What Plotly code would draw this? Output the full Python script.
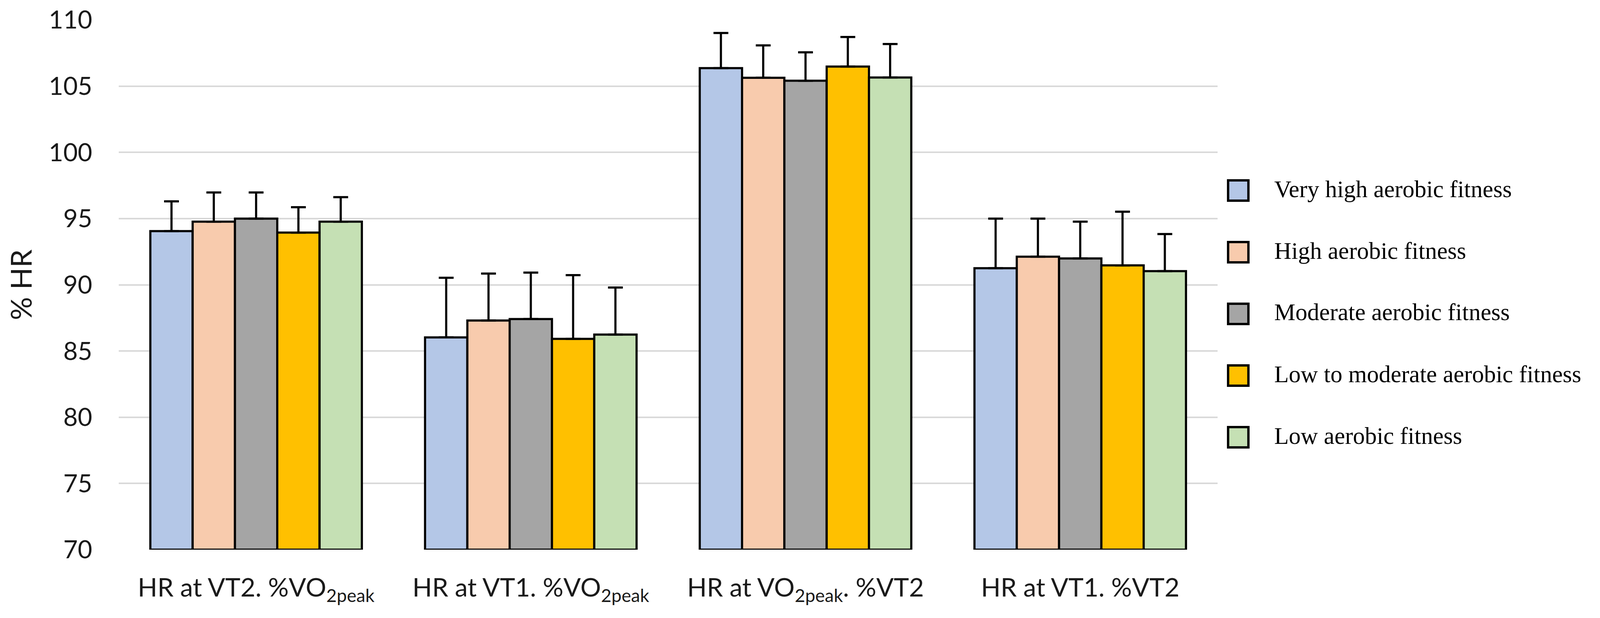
import plotly.graph_objects as go

# ---------------- data ----------------
categories = [
    "HR at VT2. %VO<sub>2peak</sub>",
    "HR at VT1. %VO<sub>2peak</sub>",
    "HR at VO<sub>2peak</sub>. %VT2",
    "HR at VT1. %VT2",
]
groups = [
    "Very high aerobic fitness",
    "High aerobic fitness",
    "Moderate aerobic fitness",
    "Low to moderate aerobic fitness",
    "Low aerobic fitness",
]
very_high = [94.05, 86.03, 106.36, 91.25]
high = [94.77, 87.30, 105.63, 92.12]
moderate = [95.00, 87.41, 105.41, 91.99]
low_moderate = [93.94, 85.92, 106.48, 91.47]
low = [94.77, 86.24, 105.65, 91.03]

very_high_sd = [2.25, 4.50, 2.65, 3.75]
high_sd = [2.20, 3.55, 2.45, 2.88]
moderate_sd = [1.97, 3.51, 2.14, 2.78]
low_moderate_sd = [1.92, 4.81, 2.23, 4.05]
low_sd = [1.85, 3.55, 2.53, 2.80]

y_min, y_max, y_step = 70, 110, 5
y_title = "% HR"

# ---------------- layout / styles ----------------
colors = ["#B4C7E7", "#F8CBAD", "#A5A5A5", "#FFC000", "#C5E0B4"]

# The browser viewport is 4096 px wide; the reference layout (4372 px wide)
# is mapped onto it horizontally, and the 8 px page margin is accounted for.
REF_W = 4372
VIEW_W, VIEW_H = 4096, 1583
SX = VIEW_W / REF_W
PAGE_MARGIN = 8
W, H = VIEW_W - 2 * PAGE_MARGIN, VIEW_H - 2 * PAGE_MARGIN

def fx(ref_x):
    return ref_x * SX - PAGE_MARGIN

def fy(ref_y):
    return ref_y - PAGE_MARGIN

L, R, T, B = fx(324), fx(3327), fy(51), fy(1408)   # plot area (figure px)

series = [very_high, high, moderate, low_moderate, low]
sds = [very_high_sd, high_sd, moderate_sd, low_moderate_sd, low_sd]

fig = go.Figure()
for name, vals, sd, col in zip(groups, series, sds, colors):
    fig.add_trace(go.Bar(
        name=name,
        x=categories,
        y=[v - y_min for v in vals],
        base=y_min,
        marker=dict(color=col, line=dict(color="black", width=5.5)),
        error_y=dict(type="data", symmetric=False, array=sd,
                     arrayminus=[0] * len(sd), color="black",
                     thickness=5.5, width=19),
        showlegend=False,
    ))

sans = "Lato, Noto Sans, sans-serif"

fig.update_layout(
    width=W, height=H,
    margin=dict(l=L, r=W - R, t=T, b=H - B, pad=0),
    paper_bgcolor="white", plot_bgcolor="white",
    barmode="group", bargap=0.23, bargroupgap=0,
    xaxis=dict(
        automargin=False,
        showgrid=False, showline=False, zeroline=False,
        ticks="outside", ticklen=40, tickcolor="rgba(0,0,0,0)",
        tickfont=dict(family=sans, size=66, color="#1a1a1a"),
    ),
    yaxis=dict(
        automargin=False,
        range=[y_min, y_max],
        tickvals=list(range(y_min, y_max + 1, y_step)),
        showgrid=True, gridcolor="#D9D9D9", gridwidth=4,
        zeroline=False, showline=False,
        ticks="outside", ticklen=54, tickcolor="rgba(0,0,0,0)",
        tickfont=dict(family=sans, size=64, color="#1a1a1a"),
        title=dict(text=y_title, font=dict(family=sans, size=74, color="#1a1a1a"),
                   standoff=36),
    ),
)

# ---------------- manual legend (large symbols) ----------------
def paper_x(p):
    return (p - L) / (R - L)

def paper_y(p):
    return (B - p) / (B - T)

box_cx, box_half = fx(3383.5), 26
text_x = fx(3480)
row0, row_step = 488, 158
for i, (name, col) in enumerate(zip(groups, colors)):
    cy = fy(row0 + i * row_step)
    fig.add_shape(type="rect", xref="paper", yref="paper",
                  x0=paper_x(box_cx - box_half), x1=paper_x(box_cx + box_half),
                  y0=paper_y(cy + box_half), y1=paper_y(cy - box_half),
                  line=dict(color="black", width=6), fillcolor=col)
    fig.add_annotation(xref="paper", yref="paper", x=paper_x(text_x), y=paper_y(cy - 4),
                       xanchor="left", yanchor="middle", showarrow=False,
                       text=name,
                       font=dict(family="Liberation Serif, serif", size=61, color="black"))

fig.write_html("out.html")
